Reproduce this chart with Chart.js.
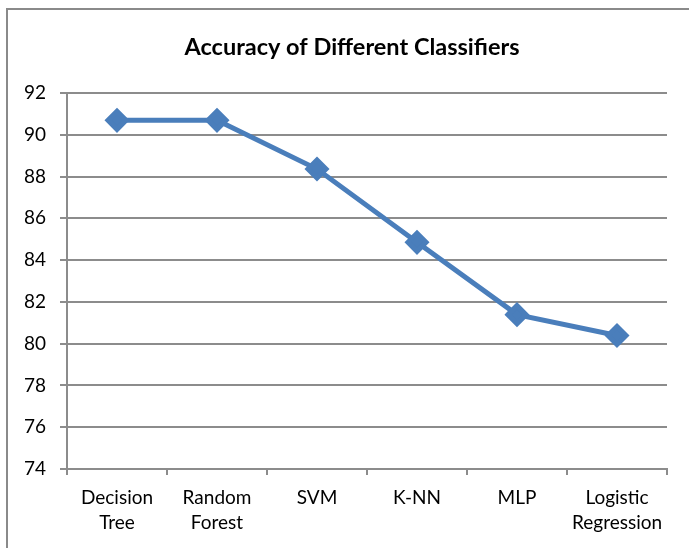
<!DOCTYPE html>
<html>
<head>
<meta charset="utf-8">
<script src="https://cdn.jsdelivr.net/npm/chart.js@4.4.1/dist/chart.umd.min.js"></script>
<style>
    html, body { margin: 0; padding: 0; background: #fff; }
    #wrap { position: relative; width: 689px; height: 548px; overflow: hidden; }
    #frame {
        position: absolute; left: 6px; top: 8px; width: 700px; height: 600px;
        border-left: 2px solid #8a8a8a; border-top: 2px solid #8a8a8a;
    }
    canvas { position: absolute; left: 0; top: 0; }
</style>
</head>
<body>
<div id="wrap">
    <div id="frame"></div>
    <canvas id="accuracyChart" width="689" height="548"></canvas>
</div>
<script>
// Chart data
const categories = [['Decision', 'Tree'], ['Random', 'Forest'], 'SVM', 'K-NN', 'MLP', ['Logistic', 'Regression']];
const accuracy = [90.69, 90.69, 88.36, 84.85, 81.39, 80.39];
const yMin = 74;
const yMax = 92;
const yStep = 2;

const gridColor = '#8c8c8c';
const fontFamily = 'Lato, "Open Sans", sans-serif';

// Shift the title block so it centres like the original
const titleShift = {
    id: 'titleShift',
    afterLayout: (chart) => {
        if (chart.titleBlock) {
            chart.titleBlock.left = 37;
        }
    }
};

const ctx = document.getElementById('accuracyChart').getContext('2d');
new Chart(ctx, {
    type: 'line',
    data: {
        labels: categories,
        datasets: [{
            data: accuracy,
            borderColor: '#4a7ebb',
            backgroundColor: '#4a7ebb',
            borderWidth: 5,
            pointStyle: 'rectRot',
            pointRadius: 9,
            pointHoverRadius: 9,
            tension: 0
        }]
    },
    options: {
        responsive: false,
        animation: false,
        layout: { padding: { left: 0, right: 22, top: 0, bottom: 0 } },
        plugins: {
            legend: { display: false },
            tooltip: { enabled: false },
            title: {
                display: true,
                text: 'Accuracy of Different Classifiers',
                color: '#000',
                font: { family: fontFamily, size: 23.5, weight: 'bold', lineHeight: 1.2 },
                padding: { top: 33, bottom: 31.8 }
            }
        },
        scales: {
            x: {
                offset: true,
                afterFit: (scale) => { scale.height = 79; },
                grid: {
                    offset: true,
                    drawOnChartArea: false,
                    drawTicks: true,
                    tickLength: 6,
                    color: gridColor,
                    lineWidth: 2
                },
                border: { color: gridColor, width: 2 },
                ticks: {
                    color: '#000',
                    padding: 11,
                    maxRotation: 0,
                    font: { family: fontFamily, size: 19, lineHeight: 1.3 }
                }
            },
            y: {
                min: yMin,
                max: yMax,
                afterFit: (scale) => { scale.width = 67; },
                grid: {
                    color: gridColor,
                    lineWidth: 2,
                    drawTicks: true,
                    tickLength: 7
                },
                border: { color: gridColor, width: 2 },
                ticks: {
                    stepSize: yStep,
                    color: '#000',
                    padding: 14,
                    font: { family: fontFamily, size: 19 }
                }
            }
        }
    },
    plugins: [titleShift]
});
</script>
</body>
</html>
